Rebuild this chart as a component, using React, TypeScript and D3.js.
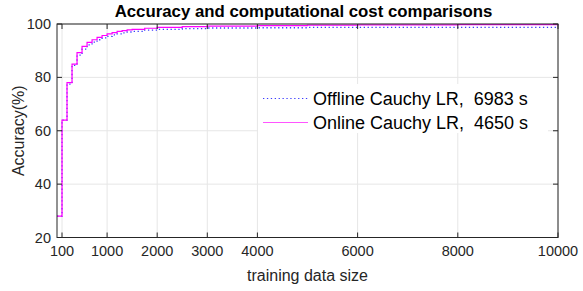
import React, { useEffect, useRef } from 'react';
import * as d3 from 'd3';

// training data sizes where accuracy was recorded
const sizes = [1, 100, 200, 300, 400, 500, 600, 700, 800, 900, 1000, 1100, 1200, 1300, 1400, 1500, 1750, 2000, 2500, 3000, 4000, 5000, 6000, 8000, 10000];
const offlineAcc = [28, 64, 77.5, 84.5, 88.3, 90.6, 92.2, 93.2, 94.1, 94.8, 95.4, 95.9, 96.3, 96.7, 97.0, 97.2, 97.7, 98.0, 98.3, 98.5, 98.6, 98.7, 98.7, 98.75, 98.8];
const onlineAcc = [28, 64, 78, 85, 89.3, 91.6, 93.1, 94.1, 95, 95.7, 96.3, 96.8, 97.2, 97.5, 97.8, 98.0, 98.4, 98.7, 99.0, 99.2, 99.4, 99.55, 99.65, 99.75, 99.8];
const xTicks = [100, 1000, 2000, 3000, 4000, 6000, 8000, 10000];
const yTicks = [20, 40, 60, 80, 100];
const legendLabels = ['Offline Cauchy LR,  6983 s', 'Online Cauchy LR,  4650 s'];

const W = 583, H = 291;
const L = 57, R = 558, T = 24, B = 237.5;

export default function App() {
    const ref = useRef<SVGSVGElement>(null);

    useEffect(() => {
        const svg = d3.select(ref.current);
        svg.selectAll('*').remove();

        const x = d3.scaleLinear().domain([0, 10000]).range([L, R]);
        const y = d3.scaleLinear().domain([20, 100]).range([B, T]);
        const font = 'Liberation Sans, Arial, Helvetica, sans-serif';

        svg.append('rect').attr('width', W).attr('height', H).attr('fill', 'white');

        // grid
        const grid = svg.append('g').attr('stroke', '#e6e6e6').attr('stroke-width', 1);
        xTicks.forEach(t => grid.append('line').attr('x1', x(t)).attr('x2', x(t)).attr('y1', T).attr('y2', B));
        yTicks.forEach(t => grid.append('line').attr('x1', L).attr('x2', R).attr('y1', y(t)).attr('y2', y(t)));

        // curves
        const line = (vals: number[]) => d3.line<number>()
            .x((d, i) => x(sizes[i]))
            .y(d => y(d))
            .curve(d3.curveStepAfter)(vals);

        svg.append('path').attr('d', line(offlineAcc)).attr('fill', 'none')
            .attr('stroke', '#3c3cff').attr('stroke-width', 1.3).attr('stroke-dasharray', '1.3,2.6');
        svg.append('path').attr('d', line(onlineAcc)).attr('fill', 'none')
            .attr('stroke', '#ff00ff').attr('stroke-width', 1.2);

        // box + ticks
        const ax = svg.append('g').attr('stroke', '#262626').attr('stroke-width', 1).attr('fill', 'none');
        ax.append('rect').attr('x', L).attr('y', T).attr('width', R - L).attr('height', B - T);
        xTicks.forEach(t => {
            ax.append('line').attr('x1', x(t)).attr('x2', x(t)).attr('y1', B).attr('y2', B - 5);
            ax.append('line').attr('x1', x(t)).attr('x2', x(t)).attr('y1', T).attr('y2', T + 5);
        });
        yTicks.forEach(t => {
            ax.append('line').attr('x1', L).attr('x2', L + 5).attr('y1', y(t)).attr('y2', y(t));
            ax.append('line').attr('x1', R).attr('x2', R - 5).attr('y1', y(t)).attr('y2', y(t));
        });

        // tick labels
        svg.append('g').selectAll('text').data(xTicks).join('text')
            .attr('x', d => x(d)).attr('y', 256)
            .attr('text-anchor', 'middle').attr('font-family', font).attr('font-size', 14.5)
            .attr('fill', '#262626').text(d => d);
        svg.append('g').selectAll('text').data(yTicks).join('text')
            .attr('x', 51).attr('y', d => y(d) + 5)
            .attr('text-anchor', 'end').attr('font-family', font).attr('font-size', 14.5)
            .attr('fill', '#262626').text(d => d);

        // axis labels and title
        svg.append('text').attr('x', (L + R) / 2).attr('y', 281).attr('text-anchor', 'middle')
            .attr('font-family', font).attr('font-size', 16).attr('fill', '#262626').text('training data size');
        svg.append('text').attr('transform', `translate(24, ${(T + B) / 2}) rotate(-90)`).attr('text-anchor', 'middle')
            .attr('font-family', font).attr('font-size', 16).attr('fill', '#262626').text('Accuracy(%)');
        svg.append('text').attr('x', (L + R) / 2 - 4).attr('y', 17).attr('text-anchor', 'middle')
            .attr('font-family', font).attr('font-size', 16.8).attr('font-weight', 'bold').attr('fill', '#000')
            .text('Accuracy and computational cost comparisons');

        // legend
        const lg = svg.append('g');
        lg.append('rect').attr('x', 258).attr('y', 84).attr('width', 290).attr('height', 49).attr('fill', 'white');
        const styles = [
            { stroke: '#3c3cff', dash: '1.3,2.6' },
            { stroke: '#ff55ff', dash: null }
        ];
        legendLabels.forEach((lab, i) => {
            const ly = 98.5 + i * 24;
            lg.append('line').attr('x1', 263).attr('x2', 308).attr('y1', ly).attr('y2', ly)
                .attr('stroke', styles[i].stroke).attr('stroke-width', 1.2)
                .attr('stroke-dasharray', styles[i].dash);
            lg.append('text').attr('x', 313).attr('y', ly + 6.3).attr('font-family', font)
                .attr('font-size', 18).attr('fill', '#000').style('white-space', 'pre').text(lab);
        });
    });

    return (
        <div>
            <svg ref={ref} width={W} height={H} style={{ position: 'absolute', left: 0, top: 0 }}></svg>
        </div>
    );
}
